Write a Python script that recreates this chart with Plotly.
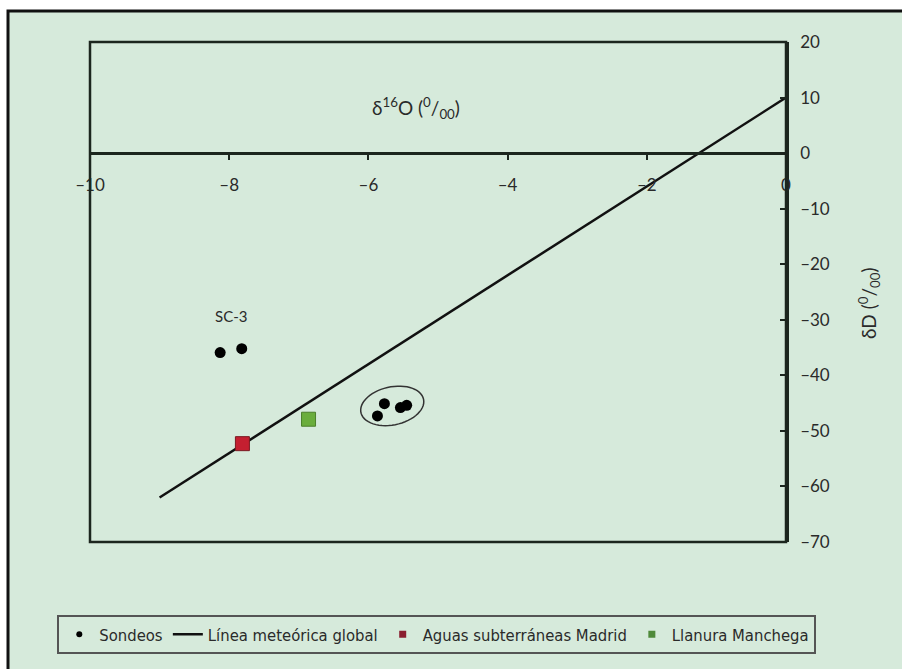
import numpy as np
import plotly.graph_objects as go

# ---- data ----
sondeos_x = [-8.13, -7.82, -5.77, -5.87, -5.54, -5.45]
sondeos_y = [-35.9, -35.2, -45.1, -47.3, -45.8, -45.4]
madrid_x = [-7.81]
madrid_y = [-52.3]
llanura_x = [-6.86]
llanura_y = [-47.9]
gmwl_x = [-9, 0]
gmwl_y = [-62, 10]

x_ticks = [-10, -8, -6, -4, -2, 0]
x_ticktext = ["–10", "–8", "–6", "–4", "–2", "0"]
y_ticks = [20, 10, 0, -10, -20, -30, -40, -50, -60, -70]
y_ticktext = ["20", "10", "0", "–10", "–20", "–30", "–40", "–50", "–60", "–70"]

BG = "#d6eadb"
DARK = "#1c261e"
TXT = "#2a2a2a"
FONT = "Lato, Open Sans, sans-serif"
LEGFONT = "DejaVu Sans Condensed, Liberation Sans Narrow, sans-serif"

XR = [-10, 0]
YR = [-70, 20]

fig = go.Figure()

# real traces
fig.add_trace(go.Scatter(x=gmwl_x, y=gmwl_y, mode="lines",
                         line=dict(color="#111111", width=2.5), showlegend=False))
fig.add_trace(go.Scatter(x=sondeos_x, y=sondeos_y, mode="markers",
                         marker=dict(color="#000000", size=11), showlegend=False))
fig.add_trace(go.Scatter(x=madrid_x, y=madrid_y, mode="markers",
                         marker=dict(color="#c41f30", size=14, symbol="square",
                                     line=dict(color="#7a1a22", width=1)), showlegend=False))
fig.add_trace(go.Scatter(x=llanura_x, y=llanura_y, mode="markers",
                         marker=dict(color="#6aad3c", size=14, symbol="square",
                                     line=dict(color="#4b7f2a", width=1)), showlegend=False))

# legend entries
fig.add_trace(go.Scatter(x=[None], y=[None], mode="markers", name="Sondeos",
                         marker=dict(color="#000000", size=6)))
fig.add_trace(go.Scatter(x=[None], y=[None], mode="lines", name="Línea meteórica global",
                         line=dict(color="#111111", width=2.5)))
fig.add_trace(go.Scatter(x=[None], y=[None], mode="markers", name="Aguas subterráneas Madrid",
                         marker=dict(color="#8a1f30", size=7, symbol="square")))
fig.add_trace(go.Scatter(x=[None], y=[None], mode="markers", name="Llanura Manchega",
                         marker=dict(color="#4f8a3a", size=7, symbol="square")))

# ellipse around the cluster of sondeos
cx = float(np.mean(sondeos_x[2:]))
cy = float(np.mean(sondeos_y[2:])) + 0.4
pxu = 69.6   # px per x unit
pyu = 5.555  # px per y unit
a, b, th = 32.0, 19.0, np.deg2rad(12)
t = np.linspace(0, 2 * np.pi, 60)
ex = cx + (a * np.cos(t) * np.cos(th) - b * np.sin(t) * np.sin(th)) / pxu
ey = cy + (a * np.cos(t) * np.sin(th) + b * np.sin(t) * np.cos(th)) / pyu
path = "M " + " L ".join(f"{xx:.4f},{yy:.4f}" for xx, yy in zip(ex, ey)) + " Z"

shapes = [
    # outer panel
    dict(type="rect", xref="paper", yref="paper", x0=-0.1178, x1=1.18, y0=-0.27, y1=1.062,
         line=dict(color="#111111", width=3), fillcolor=BG, layer="below"),
    # plot frame
    dict(type="rect", xref="paper", yref="paper", x0=0, x1=1, y0=0, y1=1,
         line=dict(color=DARK, width=2.5), layer="above"),
    dict(type="path", xref="x", yref="y", path=path,
         line=dict(color="#333333", width=1.5)),
]

annotations = [
    dict(x=-5.32, y=8.1, xref="x", yref="y", showarrow=False,
         text="δ<sup>16</sup>O (<sup>0</sup>/<sub>00</sub>)",
         font=dict(family=FONT, size=19, color=TXT)),
    dict(x=float(np.mean(sondeos_x[:2])), y=max(sondeos_y[:2]), xref="x", yref="y",
         yshift=33, showarrow=False, text="SC-3",
         font=dict(family=FONT, size=15, color=TXT)),
    dict(x=1, xref="paper", xshift=99, y=-27, yref="y", showarrow=False, textangle=-90,
         text="δD (<sup>0</sup>/<sub>00</sub>)",
         font=dict(family=FONT, size=19, color=TXT)),
]

fig.update_layout(
    width=902, height=669,
    margin=dict(l=90, r=116, t=42, b=127),
    paper_bgcolor="white",
    plot_bgcolor="rgba(0,0,0,0)",
    shapes=shapes,
    annotations=annotations,
    xaxis=dict(range=XR, anchor="free", position=(0 - YR[0]) / (YR[1] - YR[0]),
               showline=True, linecolor=DARK, linewidth=2.5,
               ticks="outside", ticklen=5, tickwidth=2, tickcolor=DARK,
               tickvals=x_ticks, ticktext=x_ticktext, ticklabelstandoff=11,
               showgrid=False, zeroline=False,
               tickfont=dict(family=FONT, size=17, color=TXT)),
    yaxis=dict(range=YR, side="right", showline=True, linecolor=DARK, linewidth=2.5,
               ticks="inside", ticklen=6, tickwidth=2, tickcolor=DARK,
               tickvals=y_ticks, ticktext=y_ticktext, ticklabelstandoff=8,
               showgrid=False, zeroline=False,
               tickfont=dict(family=FONT, size=17, color=TXT)),
    legend=dict(orientation="h", x=-0.047, y=-0.146, xanchor="left", yanchor="top",
                bgcolor="rgba(0,0,0,0)", bordercolor="#555555", borderwidth=2,
                font=dict(family=LEGFONT, size=16.5, color=TXT),
                itemwidth=30, tracegroupgap=0),
)

fig.write_html("out.html", config={"displayModeBar": False},
               post_script="document.body.style.margin='0';")
